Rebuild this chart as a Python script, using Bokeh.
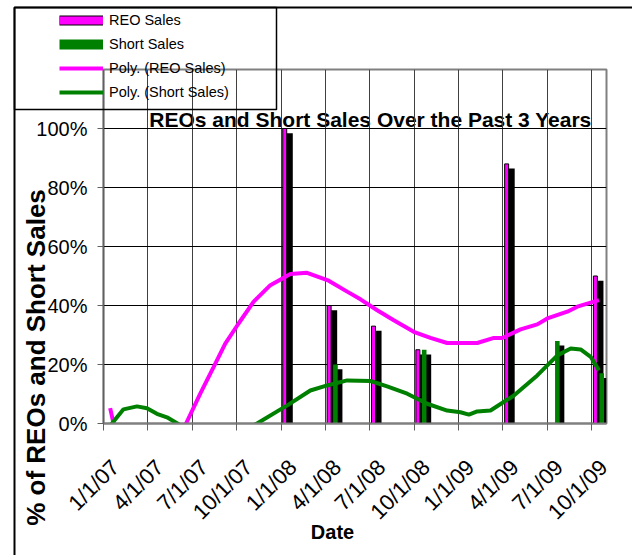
import math
from bokeh.plotting import figure
from bokeh.models import (ColumnDataSource, CDSView, BooleanFilter, FixedTicker,
                          NumeralTickFormatter, Legend, LegendItem, Label,
                          BoxAnnotation, Range1d, LinearAxis, GridBox)
from bokeh.transform import dodge
from bokeh.embed import file_html
from bokeh.resources import INLINE

# ---------------- data ----------------
quarter_month = [0, 3, 6, 9, 12, 15, 18, 21, 24, 27, 30, 33]   # months since 1/1/07
date_labels = ["1/1/07", "4/1/07", "7/1/07", "10/1/07", "1/1/08", "4/1/08",
               "7/1/08", "10/1/08", "1/1/09", "4/1/09", "7/1/09", "10/1/09"]
reo_sales = [0, 0, 0, 0, 1.00, 0.40, 0.33, 0.25, 0, 0.88, 0, 0.50]
short_sales = [0, 0, 0, 0, 0, 0.20, 0, 0.25, 0, 0, 0.28, 0.17]

reo_trend_month = [0.45, 0.68, 1.5, 3.0, 4.5, 5.58, 6.54, 7.44, 8.23, 9.13, 10.15,
                   11.28, 12.63, 13.76, 15.22, 16.47, 17.37, 18.5, 19.62, 20.97,
                   22.1, 23.23, 25.26, 26.39, 26.96, 28.19, 29.32, 30.0, 31.35,
                   32.03, 33.49]
reo_trend_value = [0.052, 0.0, -0.12, -0.20, -0.10, 0.0, 0.101, 0.191, 0.271, 0.339,
                   0.413, 0.469, 0.507, 0.511, 0.484, 0.447, 0.421, 0.384, 0.350,
                   0.311, 0.290, 0.273, 0.273, 0.290, 0.290, 0.319, 0.336, 0.356,
                   0.379, 0.396, 0.418]
short_trend_month = [0.45, 0.57, 1.35, 2.26, 2.94, 3.61, 4.29, 5.0, 6.5, 8.5, 10.38,
                     12.5, 13.98, 15.12, 16.47, 18.05, 19.17, 20.53, 21.88, 23.23,
                     24.13, 24.7, 25.26, 26.16, 27.74, 29.32, 30.68, 31.58, 32.25,
                     32.93, 33.49]
short_trend_value = [-0.01, 0.0, 0.048, 0.058, 0.052, 0.033, 0.021, 0.0, -0.05, -0.05,
                     0.0, 0.064, 0.112, 0.129, 0.146, 0.144, 0.126, 0.101, 0.067,
                     0.044, 0.038, 0.030, 0.041, 0.044, 0.095, 0.163, 0.231, 0.254,
                     0.251, 0.226, 0.180]
y_ticks = [0, 0.2, 0.4, 0.6, 0.8, 1.0]

# ---------------- style ----------------
MAGENTA = "#FF00FF"
GREEN = "#008000"
FONT = "Liberation Sans"
SHADOW_DROP = 0.016
W, H = 632, 555
NAN = float("nan")

src = ColumnDataSource(dict(
    month=quarter_month,
    reo=reo_sales,
    short=short_sales,
    reo_sh=[v - SHADOW_DROP for v in reo_sales],
    short_sh=[v - SHADOW_DROP for v in short_sales],
))
reo_view = CDSView(filter=BooleanFilter([v > 0 for v in reo_sales]))
short_view = CDSView(filter=BooleanFilter([v > 0 for v in short_sales]))

# ================= main chart =================
p = figure(width=W, height=H, x_range=Range1d(0, 34), y_range=Range1d(0, 1.2),
           output_backend="svg", toolbar_location=None,
           min_border_left=103, min_border_right=26, min_border_top=69,
           min_border_bottom=132)
p.frame_align = False
p.background_fill_color = "white"
p.border_fill_color = "white"
p.outline_line_color = "#808080"
p.outline_line_width = 2

# chart title (painted below the grid lines)
p.add_layout(Label(x=267, y=304, x_units="screen", y_units="screen",
                   text="REOs and Short Sales Over the Past 3 Years",
                   text_font=FONT, text_font_style="bold", text_font_size="21px",
                   text_color="black", text_align="center",
                   text_baseline="alphabetic", level="image"))

# shadows
p.vbar(x=dodge("month", 0.50), top="reo_sh", width=0.59, bottom=0, source=src,
       view=reo_view, fill_color="black", line_color=None)
p.vbar(x=dodge("month", 0.925), top="short_sh", width=0.45, bottom=0, source=src,
       view=short_view, fill_color="black", line_color=None)
# bars
p.vbar(x=dodge("month", 0.25), top="reo", width=0.27, bottom=0, source=src,
       view=reo_view, fill_color=MAGENTA, line_color="black", line_width=1)
p.vbar(x=dodge("month", 0.677), top="short", width=0.31, bottom=0, source=src,
       view=short_view, fill_color=GREEN, line_color=None)

# polynomial trendlines
p.line(reo_trend_month, reo_trend_value, line_color=MAGENTA, line_width=4)
p.line(short_trend_month, short_trend_value, line_color=GREEN, line_width=4)

# x axis: tick marks + line
xa = p.xaxis[0]
xa.ticker = FixedTicker(ticks=quarter_month)
xa.major_label_text_color = None
xa.major_label_text_font_size = "1px"
xa.major_label_standoff = 0
xa.major_tick_out = 7
xa.major_tick_in = 0
xa.minor_tick_line_color = None
xa.axis_line_color = "#808080"
xa.axis_line_width = 2
xa.major_tick_line_color = "#606060"

# x axis: the date labels (slightly shifted like the original)
p.extra_x_ranges = {"labels": Range1d(-0.8, 33.2)}
xb = LinearAxis(x_range_name="labels", ticker=FixedTicker(ticks=quarter_month),
                major_label_overrides={m: lab for m, lab in zip(quarter_month, date_labels)},
                major_label_orientation=math.pi / 4,
                axis_line_color=None, major_tick_line_color=None,
                minor_tick_line_color=None, major_tick_out=0, major_tick_in=0,
                major_label_standoff=33, major_label_text_font=FONT,
                major_label_text_font_size="22px", major_label_text_color="black")
p.add_layout(xb, "below")

ya = p.yaxis[0]
ya.ticker = FixedTicker(ticks=y_ticks)
ya.formatter = NumeralTickFormatter(format="0%")
ya.major_label_text_font = FONT
ya.major_label_text_font_size = "20px"
ya.major_label_text_color = "black"
ya.major_tick_out = 6
ya.major_tick_in = 0
ya.minor_tick_line_color = None
ya.axis_line_color = "#606060"
ya.axis_line_width = 1.5
ya.major_tick_line_color = "#606060"
ya.major_label_standoff = 10

p.xgrid.grid_line_color = "#404040"
p.xgrid.grid_line_width = 1
p.ygrid.grid_line_color = "black"
p.ygrid.grid_line_width = 1

# ================= overlay: chart border, legend, axis titles =================
q = figure(width=W, height=H, x_range=Range1d(0, W), y_range=Range1d(H, 0),
           output_backend="svg", toolbar_location=None, min_border=0,
           x_axis_location=None, y_axis_location=None)
q.frame_align = False
q.grid.visible = False
q.outline_line_color = None
q.background_fill_color = None
q.border_fill_color = None

q.add_layout(BoxAnnotation(left=14, right=W + 20, top=7, bottom=H + 20,
                           fill_alpha=0, line_color="black", line_alpha=1,
                           line_width=2))
q.add_layout(BoxAnnotation(left=14, right=276, top=7, bottom=109,
                           fill_alpha=0, line_color="black", line_alpha=1,
                           line_width=1.5))

q.add_layout(Label(x=35, y=357, text="% of REOs and Short Sales", angle=math.pi / 2,
                   text_font=FONT, text_font_style="bold", text_font_size="26px",
                   text_color="black", text_align="center", text_baseline="middle"))
q.add_layout(Label(x=332, y=531, text="Date", text_font=FONT, text_font_style="bold",
                   text_font_size="20px", text_color="black", text_align="center",
                   text_baseline="middle"))

# legend swatches (same styling as the chart marks; no visible data of their own)
sw_reo_edge = q.line([NAN], [NAN], line_color="black", line_width=10)
sw_reo_fill = q.line([NAN], [NAN], line_color=MAGENTA, line_width=8)
sw_short = q.line([NAN], [NAN], line_color=GREEN, line_width=10)
sw_reo_poly = q.line([NAN], [NAN], line_color=MAGENTA, line_width=4)
sw_short_poly = q.line([NAN], [NAN], line_color=GREEN, line_width=4)

legend = Legend(items=[
    LegendItem(label="REO Sales", renderers=[sw_reo_edge, sw_reo_fill]),
    LegendItem(label="Short Sales", renderers=[sw_short]),
    LegendItem(label="Poly. (REO Sales)", renderers=[sw_reo_poly]),
    LegendItem(label="Poly. (Short Sales)", renderers=[sw_short_poly]),
], location=(59, H - 101.5))
legend.border_line_alpha = 0
legend.background_fill_alpha = 0
legend.padding = 0
legend.spacing = 4
legend.label_height = 20
legend.glyph_height = 20
legend.glyph_width = 44
legend.label_standoff = 6
legend.label_text_font = FONT
legend.label_text_font_size = "14.5px"
legend.label_text_color = "black"
q.add_layout(legend, "center")

layout = GridBox(children=[(p, 0, 0), (q, 0, 0)])
open("out.html", "w").write(file_html(layout, INLINE))
